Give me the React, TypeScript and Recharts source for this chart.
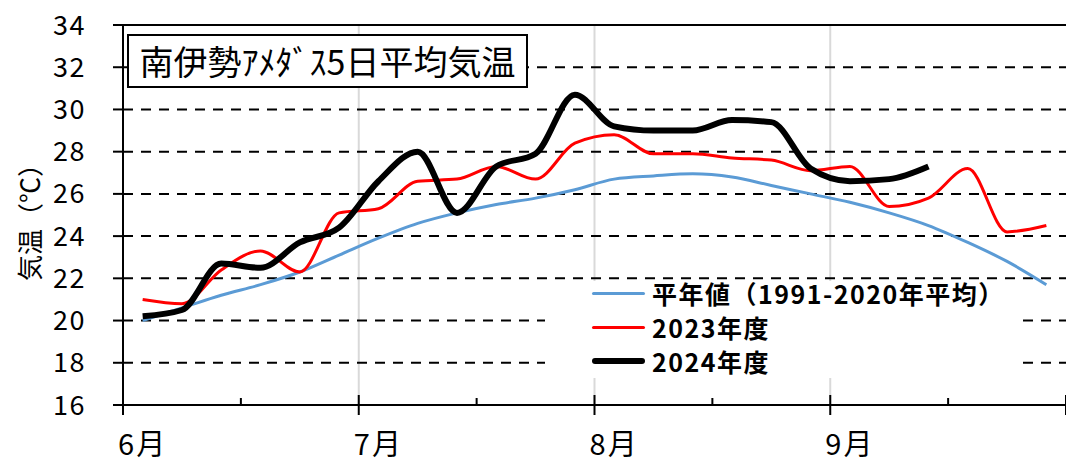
import { Line, LineChart, XAxis, YAxis, ReferenceLine } from "recharts"


// 5-day periods: 6 per month, June to September
const pentads = [0, 1, 2, 3, 4, 5, 6, 7, 8, 9, 10, 11, 12, 13, 14, 15, 16, 17, 18, 19, 20, 21, 22, 23]

const monthLabels = ["6月", "7月", "8月", "9月"]

const normalTemps = [
	20.0, 20.6, 21.2, 21.7, 22.3, 23.1,
	23.9, 24.6, 25.1, 25.5, 25.8, 26.2,
	26.7, 26.85, 26.95, 26.8, 26.4, 26.0,
	25.6, 25.1, 24.5, 23.7, 22.8, 21.7,
]

const temps2023 = [
	21.0, 20.8, 22.4, 23.3, 22.3, 25.1,
	25.3, 26.6, 26.7, 27.3, 26.7, 28.4,
	28.8, 27.9, 27.9, 27.7, 27.6, 27.1,
	27.3, 25.4, 25.8, 27.2, 24.2, 24.5,
]

const temps2024 = [
	20.2, 20.5, 22.7, 22.5, 23.7, 24.4,
	26.6, 28.0, 25.1, 27.3, 27.9, 30.7,
	29.2, 29.0, 29.0, 29.5, 29.4, 27.2,
	26.6, 26.7, 27.3,
]

const yTicks = [16, 18, 20, 22, 24, 26, 28, 30, 32, 34]
const dashedLevels = [18, 20, 22, 24, 26, 28, 30, 32]
const xTicks = [-0.5, 2.5, 5.5, 8.5, 11.5, 14.5, 17.5, 20.5, 23.5]
const monthBounds = [5.5, 11.5, 17.5]

const series = [
	{ key: "normal", name: "平年値（1991-2020年平均）", color: "#5B9BD5", width: 3 },
	{ key: "y2023", name: "2023年度", color: "#FF0000", width: 3 },
	{ key: "y2024", name: "2024年度", color: "#000000", width: 6 },
]

const data = pentads.map((k, i) => ({
	k,
	normal: normalTemps[i],
	y2023: temps2023[i],
	y2024: i < temps2024.length ? temps2024[i] : null,
}))


const FONT = "'Noto Sans CJK JP', sans-serif"
const W = 1066
const H = 469
const LEFT = 123
const catW = (W - LEFT) / pentads.length


function XTick(props: any) {
	const { x, y, payload } = props
	const v = payload.value
	const major = (v + 0.5) % 6 === 0
	const monthIdx = (v + 0.5) / 6

	return (
		<g>
			{major ? (
				<line x1={x} x2={x} y1={y - 10} y2={y + 10} stroke="#000" strokeWidth={2} />
			) : (
				<line x1={x} x2={x} y1={y - 7} y2={y} stroke="#000" strokeWidth={2} />
			)}
			{major && monthIdx < monthLabels.length && (
				<text
					x={x + catW / 2}
					y={y + 50}
					textAnchor="middle"
					fontSize={29}
					letterSpacing={2}
					fontFamily={FONT}
					fill="#000"
				>
					{monthLabels[monthIdx]}
				</text>
			)}
		</g>
	)
}


function LegendBox() {
	return (
		<div
			style={{
				position: "absolute",
				left: 545,
				top: 281,
				width: 475,
				height: 97,
				background: "#fff",
				fontFamily: FONT,
			}}
		>
			<div style={{ position: "relative", top: -5 }}>
				{series.map(s => (
					<div
						key={s.key}
						style={{ display: "flex", alignItems: "center", height: 34 }}
					>
						<div
							style={{
								marginLeft: 47,
								width: 53,
								height: s.width,
								background: s.color,
								borderRadius: s.width / 2,
							}}
						/>
						<span
							style={{
								marginLeft: 7,
								fontSize: 25,
								fontWeight: 700,
								letterSpacing: 1.5,
								color: "#000",
								whiteSpace: "nowrap",
							}}
						>
							{s.name}
						</span>
					</div>
				))}
			</div>
		</div>
	)
}


export default function App() {
	return (
		<div style={{ position: "absolute", left: 0, top: 0, width: W, height: H, background: "#fff" }}>

			<LineChart
				width={W}
				height={H}
				data={data}
				margin={{ top: 25, right: 0, bottom: 0, left: 0 }}
			>

				<XAxis
					type="number"
					dataKey="k"
					domain={[-0.5, 23.5]}
					ticks={xTicks}
					interval={0}
					tickLine={false}
					tickSize={0}
					tickMargin={0}
					axisLine={{ stroke: "#000", strokeWidth: 2 }}
					tick={<XTick />}
					height={64}
				/>

				<YAxis
					type="number"
					domain={[16, 34]}
					ticks={yTicks}
					interval={0}
					width={LEFT}
					tickSize={10}
					tickMargin={27}
					axisLine={{ stroke: "#000", strokeWidth: 2 }}
					tickLine={{ stroke: "#000", strokeWidth: 2 }}
					tick={{ fill: "#000", fontSize: 27, fontFamily: FONT, letterSpacing: 1.5 }}
					label={{
						content: () => (
							<text
								x={28}
								y={216}
								transform="rotate(-90 28 216)"
								textAnchor="middle"
								dominantBaseline="central"
								fontSize={26}
								fontFamily={FONT}
								fill="#000"
							>
								気温（℃）
							</text>
						),
					}}
				/>

				{monthBounds.map(x => (
					<ReferenceLine key={`v${x}`} x={x} stroke="#d9d9d9" strokeWidth={2} />
				))}

				{dashedLevels.map(y => (
					<ReferenceLine key={`h${y}`} y={y} stroke="#000" strokeWidth={2} strokeDasharray="10 8" />
				))}

				<ReferenceLine y={34} stroke="#000" strokeWidth={2} />

				{series.map(s => (
					<Line
						key={s.key}
						type="monotone"
						dataKey={s.key}
						name={s.name}
						stroke={s.color}
						strokeWidth={s.width}
						dot={false}
						activeDot={false}
						connectNulls={false}
						isAnimationActive={false}
					/>
				))}

			</LineChart>

			<LegendBox />

			<div
				style={{
					position: "absolute",
					left: 127,
					top: 34,
					width: 397,
					height: 50,
					border: "2px solid #000",
					background: "#fff",
					fontFamily: FONT,
					fontSize: 34,
					lineHeight: "50px",
					textAlign: "center",
					color: "#000",
					whiteSpace: "nowrap",
				}}
			>
				南伊勢ｱﾒﾀﾞｽ5日平均気温
			</div>

		</div>
	)
}
